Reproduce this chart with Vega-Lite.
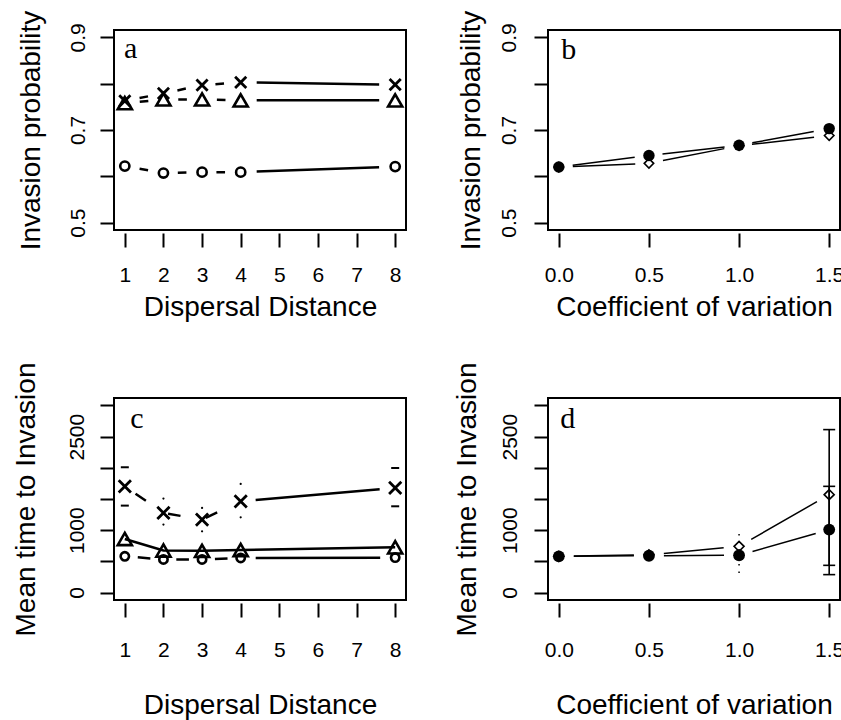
{
  "$schema": "https://vega.github.io/schema/vega-lite/v6.json",
  "background": "white",
  "padding": {"left": 10, "top": 9, "right": 0, "bottom": 0},
  "columns": 2,
  "spacing": {"row": 168, "column": 142},
  "bounds": "flush",
  "datasets": {
    "a": [
      {"series": "A", "dist": 1, "prob": 0.763}, {"series": "A", "dist": 2, "prob": 0.779}, {"series": "A", "dist": 3, "prob": 0.797}, {"series": "A", "dist": 4, "prob": 0.803}, {"series": "A", "dist": 8, "prob": 0.798},
      {"series": "B", "dist": 1, "prob": 0.758}, {"series": "B", "dist": 2, "prob": 0.766}, {"series": "B", "dist": 3, "prob": 0.766}, {"series": "B", "dist": 4, "prob": 0.764}, {"series": "B", "dist": 8, "prob": 0.764},
      {"series": "C", "dist": 1, "prob": 0.622}, {"series": "C", "dist": 2, "prob": 0.607}, {"series": "C", "dist": 3, "prob": 0.609}, {"series": "C", "dist": 4, "prob": 0.609}, {"series": "C", "dist": 8, "prob": 0.621}
    ],
    "b": [
      {"series": "Q", "cv": 0, "prob": 0.620}, {"series": "Q", "cv": 0.5, "prob": 0.628}, {"series": "Q", "cv": 1.0, "prob": 0.666}, {"series": "Q", "cv": 1.5, "prob": 0.688},
      {"series": "P", "cv": 0, "prob": 0.620}, {"series": "P", "cv": 0.5, "prob": 0.645}, {"series": "P", "cv": 1.0, "prob": 0.667}, {"series": "P", "cv": 1.5, "prob": 0.703}
    ],
    "c": [
      {"series": "A", "dist": 1, "time": 1704, "lo": 1394, "hi": 2009}, {"series": "A", "dist": 2, "time": 1276, "lo": 1090, "hi": 1507}, {"series": "A", "dist": 3, "time": 1170, "lo": 982, "hi": 1356}, {"series": "A", "dist": 4, "time": 1463, "lo": 1207, "hi": 1741}, {"series": "A", "dist": 8, "time": 1677, "lo": 1383, "hi": 1997},
      {"series": "B", "dist": 1, "time": 858, "lo": null, "hi": null}, {"series": "B", "dist": 2, "time": 673, "lo": null, "hi": null}, {"series": "B", "dist": 3, "time": 668, "lo": null, "hi": null}, {"series": "B", "dist": 4, "time": 682, "lo": null, "hi": null}, {"series": "B", "dist": 8, "time": 725, "lo": null, "hi": null},
      {"series": "C", "dist": 1, "time": 581, "lo": null, "hi": null}, {"series": "C", "dist": 2, "time": 530, "lo": null, "hi": null}, {"series": "C", "dist": 3, "time": 530, "lo": null, "hi": null}, {"series": "C", "dist": 4, "time": 555, "lo": null, "hi": null}, {"series": "C", "dist": 8, "time": 560, "lo": null, "hi": null}
    ],
    "d": [
      {"series": "Q", "cv": 0, "time": 580, "lo": null, "hi": null}, {"series": "Q", "cv": 0.5, "time": 605, "lo": null, "hi": null}, {"series": "Q", "cv": 1.0, "time": 741, "lo": null, "hi": null}, {"series": "Q", "cv": 1.5, "time": 1570, "lo": 436, "hi": 2613},
      {"series": "P", "cv": 0, "time": 580, "lo": null, "hi": null}, {"series": "P", "cv": 0.5, "time": 590, "lo": null, "hi": null}, {"series": "P", "cv": 1.0, "time": 597, "lo": 313, "hi": 954}, {"series": "P", "cv": 1.5, "time": 1009, "lo": 287, "hi": 1703}
    ]
  },
  "concat": [
    {
      "width": 292, "height": 200,
      "data": {"name": "a"},
      "encoding": {
        "x": {"field": "dist", "type": "quantitative", "scale": {"domain": [0.72, 8.28], "nice": false, "zero": false},
          "axis": {"values": [1, 2, 3, 4, 5, 6, 7, 8], "format": "d", "title": "Dispersal Distance", "offset": 3, "labelAngle": 0, "labelBaseline": "alphabetic", "labelPadding": 34, "titleBaseline": "alphabetic", "titleY": 82}},
        "y": {"field": "prob", "type": "quantitative", "scale": {"domain": [0.484, 0.916], "nice": false, "zero": false},
          "axis": {"values": [0.5, 0.6, 0.7, 0.8, 0.9], "labelExpr": "indexof([5,7,9], round(datum.value*10)) >= 0 ? format(datum.value, '.1f') : ''", "title": "Invasion probability", "labelAngle": 270, "labelAlign": "center", "labelBaseline": "alphabetic", "labelPadding": 16, "titleAngle": 270, "titleBaseline": "alphabetic", "titleX": -75}}
      },
      "layer": [
        {"transform": [{"filter": "datum.dist <= 4"}], "mark": {"type": "line", "color": "black", "strokeWidth": 2.5, "strokeDash": [0, 15, 8.62, 15]}, "encoding": {"detail": {"field": "series"}}},
        {"transform": [{"filter": "datum.dist >= 4"}], "mark": {"type": "line", "color": "black", "strokeWidth": 2.5, "strokeDash": [0, 16, 122.5, 16]}, "encoding": {"detail": {"field": "series"}}},
        {"transform": [{"filter": "datum.series == 'A'"}], "mark": {"type": "point", "shape": "M-1,-1L1,1M-1,1L1,-1", "size": 125, "filled": false, "color": "black", "strokeWidth": 2.8, "opacity": 1}},
        {"transform": [{"filter": "datum.series == 'B'"}], "mark": {"type": "point", "shape": "triangle-up", "size": 200, "filled": false, "color": "black", "strokeWidth": 2.6, "opacity": 1}},
        {"transform": [{"filter": "datum.series == 'C'"}], "mark": {"type": "point", "shape": "circle", "size": 85, "filled": false, "color": "black", "strokeWidth": 2.6, "opacity": 1}},
        {"data": {"values": [{"lx": 0.979, "ly": 0.8555, "label": "a"}]},
          "mark": {"type": "text", "font": "Liberation Serif", "fontSize": 30, "align": "left", "baseline": "alphabetic", "color": "black"},
          "encoding": {"x": {"field": "lx", "type": "quantitative"}, "y": {"field": "ly", "type": "quantitative"}, "text": {"field": "label", "type": "nominal"}}}
      ]
    },
    {
      "width": 292, "height": 200,
      "data": {"name": "b"},
      "encoding": {
        "x": {"field": "cv", "type": "quantitative", "scale": {"domain": [-0.06, 1.56], "nice": false, "zero": false},
          "axis": {"values": [0, 0.5, 1, 1.5], "format": ".1f", "title": "Coefficient of variation", "offset": 3, "labelAngle": 0, "labelBaseline": "alphabetic", "labelPadding": 34, "titleBaseline": "alphabetic", "titleY": 82}},
        "y": {"field": "prob", "type": "quantitative", "scale": {"domain": [0.484, 0.916], "nice": false, "zero": false},
          "axis": {"values": [0.5, 0.6, 0.7, 0.8, 0.9], "labelExpr": "indexof([5,7,9], round(datum.value*10)) >= 0 ? format(datum.value, '.1f') : ''", "title": "Invasion probability", "labelAngle": 270, "labelAlign": "center", "labelBaseline": "alphabetic", "labelPadding": 19, "titleAngle": 270, "titleBaseline": "alphabetic", "titleX": -69}}
      },
      "layer": [
        {"mark": {"type": "line", "color": "black", "strokeWidth": 1.5, "strokeDash": [0, 14, 62.5, 14]}, "encoding": {"detail": {"field": "series"}}},
        {"transform": [{"filter": "datum.series == 'Q'"}], "mark": {"type": "point", "shape": "diamond", "size": 90, "filled": false, "color": "black", "strokeWidth": 1.6, "opacity": 1}},
        {"transform": [{"filter": "datum.series == 'P'"}], "mark": {"type": "point", "shape": "circle", "size": 130, "filled": true, "color": "black", "opacity": 1}},
        {"data": {"values": [{"lx": 0.014, "ly": 0.853, "label": "b"}]},
          "mark": {"type": "text", "font": "Liberation Serif", "fontSize": 30, "align": "left", "baseline": "alphabetic", "color": "black"},
          "encoding": {"x": {"field": "lx", "type": "quantitative"}, "y": {"field": "ly", "type": "quantitative"}, "text": {"field": "label", "type": "nominal"}}}
      ]
    },
    {
      "width": 292, "height": 202,
      "data": {"name": "c"},
      "encoding": {
        "x": {"field": "dist", "type": "quantitative", "scale": {"domain": [0.72, 8.28], "nice": false, "zero": false},
          "axis": {"values": [1, 2, 3, 4, 5, 6, 7, 8], "format": "d", "title": "Dispersal Distance", "offset": 3, "labelAngle": 0, "labelBaseline": "alphabetic", "labelPadding": 39, "titleBaseline": "alphabetic", "titleY": 110}},
        "y": {"field": "time", "type": "quantitative", "scale": {"domain": [-120, 3120], "nice": false, "zero": false},
          "axis": {"values": [0, 500, 1000, 1500, 2000, 2500, 3000], "format": "d", "labelExpr": "indexof([0,1000,2500], datum.value) >= 0 ? datum.label : ''", "title": "Mean time to Invasion", "labelAngle": 270, "labelAlign": "center", "labelBaseline": "alphabetic", "labelPadding": 17, "titleAngle": 270, "titleBaseline": "alphabetic", "titleX": -80}}
      },
      "layer": [
        {"transform": [{"filter": "datum.dist <= 4 && datum.series != 'B'"}], "mark": {"type": "line", "color": "black", "strokeWidth": 2.5, "strokeDash": [0, 13, 12.62, 13]}, "encoding": {"detail": {"field": "series"}}},
        {"transform": [{"filter": "datum.dist >= 4 && datum.series != 'B'"}], "mark": {"type": "line", "color": "black", "strokeWidth": 2.5, "strokeDash": [0, 15, 124.5, 15]}, "encoding": {"detail": {"field": "series"}}},
        {"transform": [{"filter": "datum.series == 'B'"}], "mark": {"type": "line", "color": "black", "strokeWidth": 2.5}, "encoding": {"detail": {"field": "series"}}},
        {"transform": [{"filter": "datum.series == 'A' && (datum.dist == 1 || datum.dist == 8)"}, {"fold": ["lo", "hi"], "as": ["bound", "limit"]}],
          "mark": {"type": "tick", "orient": "horizontal", "size": 8, "thickness": 2, "color": "black", "opacity": 1},
          "encoding": {"y": {"field": "limit", "type": "quantitative"}}},
        {"transform": [{"filter": "datum.series == 'A' && datum.dist >= 2 && datum.dist <= 4"}, {"fold": ["lo", "hi"], "as": ["bound", "limit"]}],
          "mark": {"type": "point", "shape": "circle", "size": 5, "filled": true, "color": "black", "opacity": 1},
          "encoding": {"y": {"field": "limit", "type": "quantitative"}}},
        {"transform": [{"filter": "datum.series == 'A'"}], "mark": {"type": "point", "shape": "M-1,-1L1,1M-1,1L1,-1", "size": 150, "filled": false, "color": "black", "strokeWidth": 2.8, "opacity": 1}},
        {"transform": [{"filter": "datum.series == 'B'"}], "mark": {"type": "point", "shape": "triangle-up", "size": 200, "filled": false, "color": "black", "strokeWidth": 2.6, "opacity": 1}},
        {"transform": [{"filter": "datum.series == 'C'"}], "mark": {"type": "point", "shape": "circle", "size": 70, "filled": false, "color": "black", "strokeWidth": 2.6, "opacity": 1}},
        {"data": {"values": [{"lx": 1.142, "ly": 2639, "label": "c"}]},
          "mark": {"type": "text", "font": "Liberation Serif", "fontSize": 30, "align": "left", "baseline": "alphabetic", "color": "black"},
          "encoding": {"x": {"field": "lx", "type": "quantitative"}, "y": {"field": "ly", "type": "quantitative"}, "text": {"field": "label", "type": "nominal"}}}
      ]
    },
    {
      "width": 292, "height": 202,
      "data": {"name": "d"},
      "encoding": {
        "x": {"field": "cv", "type": "quantitative", "scale": {"domain": [-0.06, 1.56], "nice": false, "zero": false},
          "axis": {"values": [0, 0.5, 1, 1.5], "format": ".1f", "title": "Coefficient of variation", "offset": 3, "labelAngle": 0, "labelBaseline": "alphabetic", "labelPadding": 39, "titleBaseline": "alphabetic", "titleY": 110}},
        "y": {"field": "time", "type": "quantitative", "scale": {"domain": [-120, 3120], "nice": false, "zero": false},
          "axis": {"values": [0, 500, 1000, 1500, 2000, 2500, 3000], "format": "d", "labelExpr": "indexof([0,1000,2500], datum.value) >= 0 ? datum.label : ''", "title": "Mean time to Invasion", "labelAngle": 270, "labelAlign": "center", "labelBaseline": "alphabetic", "labelPadding": 18, "titleAngle": 270, "titleBaseline": "alphabetic", "titleX": -73}}
      },
      "layer": [
        {"transform": [{"filter": "datum.cv <= 1"}], "mark": {"type": "line", "color": "black", "strokeWidth": 1.5, "strokeDash": [0, 15, 60.1, 15]}, "encoding": {"detail": {"field": "series"}}},
        {"transform": [{"filter": "datum.cv >= 1"}], "mark": {"type": "line", "color": "black", "strokeWidth": 1.5},
          "encoding": {"strokeDash": {"field": "series", "type": "nominal", "scale": {"domain": ["P", "Q"], "range": [[0, 14, 65.7, 14], [0, 14, 75.8, 14]]}, "legend": null}}},
        {"transform": [{"filter": "datum.cv == 1.5 && isValid(datum.lo)"}], "mark": {"type": "rule", "color": "black", "strokeWidth": 1.6},
          "encoding": {"y": {"field": "lo", "type": "quantitative"}, "y2": {"field": "hi"}}},
        {"transform": [{"filter": "datum.cv == 1 && isValid(datum.lo)"}], "mark": {"type": "rule", "color": "black", "strokeWidth": 1.5, "strokeDash": [1.5, 6]},
          "encoding": {"y": {"field": "lo", "type": "quantitative"}, "y2": {"field": "hi"}}},
        {"transform": [{"filter": "datum.cv == 1.5 && isValid(datum.lo)"}, {"fold": ["lo", "hi"], "as": ["bound", "limit"]}],
          "mark": {"type": "tick", "orient": "horizontal", "size": 12, "thickness": 1.6, "color": "black", "opacity": 1},
          "encoding": {"y": {"field": "limit", "type": "quantitative"}}},
        {"transform": [{"filter": "datum.series == 'Q'"}], "mark": {"type": "point", "shape": "diamond", "size": 100, "filled": false, "color": "black", "strokeWidth": 1.6, "opacity": 1}},
        {"transform": [{"filter": "datum.series == 'P'"}], "mark": {"type": "point", "shape": "circle", "size": 140, "filled": true, "color": "black", "opacity": 1}},
        {"data": {"values": [{"lx": 0.008, "ly": 2639, "label": "d"}]},
          "mark": {"type": "text", "font": "Liberation Serif", "fontSize": 30, "align": "left", "baseline": "alphabetic", "color": "black"},
          "encoding": {"x": {"field": "lx", "type": "quantitative"}, "y": {"field": "ly", "type": "quantitative"}, "text": {"field": "label", "type": "nominal"}}}
      ]
    }
  ],
  "config": {
    "font": "Liberation Sans",
    "view": {"stroke": "black", "strokeWidth": 2},
    "axis": {"domain": false, "grid": false, "ticks": true, "tickColor": "black", "tickWidth": 2, "tickSize": 14,
      "labelColor": "black", "labelFont": "Liberation Sans", "labelFontSize": 21, "labelOverlap": false, "labelFlush": false,
      "titleFont": "Liberation Sans", "titleFontSize": 28, "titleFontWeight": "normal", "titleColor": "black"}
  }
}
